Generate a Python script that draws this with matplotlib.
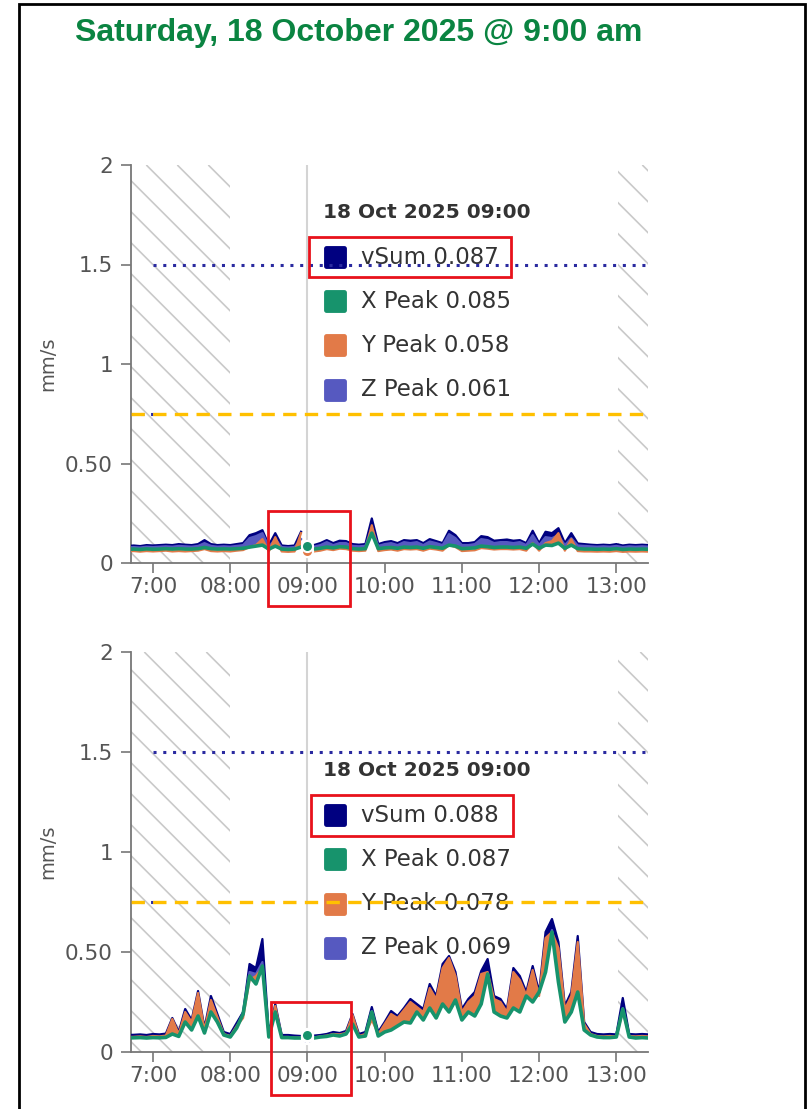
import numpy as np
import matplotlib.pyplot as plt
from matplotlib.collections import LineCollection
from matplotlib.patches import Rectangle
from matplotlib.markers import MarkerStyle

plt.rcParams['font.family'] = ['DejaVu Sans']

W, H = 808, 1109
nan = np.nan

# samples every 5 minutes, 06:40 .. 13:25
t0 = 6 + 40 / 60
times = t0 + np.arange(82) * 5 / 60

tick_hours = [7, 8, 9, 10, 11, 12, 13]
tick_labels = ['7:00', '08:00', '09:00', '10:00', '11:00', '12:00', '13:00']
y_ticks = [0, 0.5, 1, 1.5, 2]
y_tick_labels = ['0', '0.50', '1', '1.5', '2']

series_names = ['vSum', 'X Peak', 'Y Peak', 'Z Peak']
top_legend = [0.087, 0.085, 0.058, 0.061]
bot_legend = [0.088, 0.087, 0.078, 0.069]

top_vsum = [0.085, 0.088, 0.085, 0.090, 0.088, 0.090, 0.092, 0.090, 0.095, 0.092,
            0.090, 0.095, 0.115, 0.095, 0.090, 0.092, 0.090, 0.095, 0.100, 0.140,
            0.150, 0.165, 0.090, 0.150, 0.088, 0.085, 0.088, 0.157, nan, 0.090,
            0.100, 0.115, 0.100, 0.112, 0.110, 0.095, 0.092, 0.095, 0.224, 0.095,
            0.105, 0.110, 0.100, 0.115, 0.112, 0.115, 0.100, 0.120, 0.110, 0.100,
            0.162, 0.140, 0.100, 0.100, 0.105, 0.135, 0.130, 0.112, 0.115, 0.118,
            0.112, 0.115, 0.100, 0.162, 0.100, 0.157, 0.150, 0.175, 0.100, 0.150,
            0.098, 0.095, 0.092, 0.090, 0.092, 0.090, 0.095, 0.088, 0.092, 0.090,
            0.092, 0.090]
top_z = [0.078, 0.080, 0.078, 0.082, 0.080, 0.082, 0.084, 0.082, 0.086, 0.084,
         0.082, 0.086, 0.100, 0.086, 0.082, 0.084, 0.082, 0.086, 0.090, 0.125,
         0.135, 0.150, 0.082, 0.120, 0.080, 0.078, 0.080, 0.120, nan, 0.082,
         0.090, 0.105, 0.090, 0.100, 0.100, 0.086, 0.084, 0.086, 0.180, 0.086,
         0.095, 0.100, 0.090, 0.105, 0.100, 0.105, 0.090, 0.108, 0.100, 0.090,
         0.145, 0.125, 0.090, 0.090, 0.095, 0.120, 0.115, 0.100, 0.105, 0.105,
         0.100, 0.105, 0.090, 0.140, 0.090, 0.130, 0.125, 0.140, 0.090, 0.125,
         0.088, 0.086, 0.084, 0.082, 0.084, 0.082, 0.086, 0.080, 0.084, 0.082,
         0.084, 0.082]
top_y = [0.058, 0.060, 0.057, 0.060, 0.058, 0.060, 0.062, 0.058, 0.060, 0.058,
         0.060, 0.062, 0.070, 0.060, 0.058, 0.060, 0.058, 0.062, 0.065, 0.080,
         0.090, 0.120, 0.058, 0.130, 0.058, 0.056, 0.058, 0.150, nan, 0.058,
         0.062, 0.070, 0.065, 0.072, 0.070, 0.062, 0.060, 0.062, 0.190, 0.060,
         0.065, 0.068, 0.062, 0.070, 0.068, 0.070, 0.062, 0.072, 0.068, 0.062,
         0.090, 0.080, 0.060, 0.062, 0.064, 0.075, 0.072, 0.068, 0.070, 0.070,
         0.068, 0.070, 0.062, 0.100, 0.062, 0.100, 0.110, 0.150, 0.062, 0.120,
         0.060, 0.058, 0.058, 0.057, 0.058, 0.057, 0.060, 0.056, 0.058, 0.057,
         0.058, 0.057]
top_x = [0.068, 0.070, 0.068, 0.071, 0.069, 0.070, 0.072, 0.070, 0.072, 0.070,
         0.070, 0.072, 0.078, 0.072, 0.070, 0.071, 0.070, 0.072, 0.074, 0.080,
         0.085, 0.090, 0.070, 0.085, 0.070, 0.068, 0.070, 0.080, nan, 0.070,
         0.074, 0.080, 0.076, 0.082, 0.080, 0.072, 0.070, 0.072, 0.150, 0.072,
         0.076, 0.078, 0.074, 0.080, 0.078, 0.080, 0.074, 0.082, 0.078, 0.074,
         0.090, 0.085, 0.072, 0.074, 0.076, 0.085, 0.082, 0.078, 0.080, 0.080,
         0.078, 0.080, 0.074, 0.095, 0.074, 0.090, 0.088, 0.100, 0.074, 0.090,
         0.072, 0.070, 0.070, 0.069, 0.070, 0.069, 0.072, 0.068, 0.070, 0.069,
         0.070, 0.069]

bot_vsum = [0.085, 0.086, 0.088, 0.085, 0.090, 0.088, 0.092, 0.170, 0.100, 0.215,
            0.160, 0.305, 0.120, 0.280, 0.190, 0.100, 0.090, 0.145, 0.200, 0.440,
            0.420, 0.565, 0.090, 0.240, 0.085, 0.085, 0.082, 0.080, nan, 0.082,
            0.085, 0.090, 0.100, 0.095, 0.105, 0.190, 0.090, 0.100, 0.225, 0.100,
            0.150, 0.205, 0.180, 0.220, 0.265, 0.240, 0.215, 0.340, 0.280, 0.440,
            0.480, 0.400, 0.215, 0.265, 0.300, 0.405, 0.465, 0.280, 0.265, 0.215,
            0.420, 0.380, 0.300, 0.430, 0.300, 0.600, 0.665, 0.550, 0.230, 0.300,
            0.580, 0.150, 0.100, 0.090, 0.088, 0.090, 0.088, 0.270, 0.090, 0.088,
            0.090, 0.088]
bot_y = [0.075, 0.076, 0.078, 0.075, 0.080, 0.078, 0.082, 0.165, 0.090, 0.200,
         0.150, 0.295, 0.110, 0.260, 0.175, 0.090, 0.080, 0.130, 0.170, 0.360,
         0.380, 0.420, 0.080, 0.230, 0.075, 0.075, 0.072, 0.072, nan, 0.072,
         0.078, 0.082, 0.090, 0.088, 0.095, 0.185, 0.080, 0.090, 0.160, 0.090,
         0.140, 0.190, 0.170, 0.210, 0.250, 0.225, 0.200, 0.320, 0.265, 0.420,
         0.470, 0.380, 0.200, 0.250, 0.280, 0.390, 0.400, 0.265, 0.250, 0.200,
         0.400, 0.360, 0.285, 0.410, 0.280, 0.570, 0.600, 0.520, 0.215, 0.280,
         0.550, 0.140, 0.090, 0.080, 0.078, 0.080, 0.078, 0.200, 0.080, 0.078,
         0.080, 0.078]
bot_x = [0.070, 0.071, 0.072, 0.070, 0.072, 0.071, 0.073, 0.090, 0.078, 0.150,
         0.110, 0.180, 0.095, 0.200, 0.150, 0.085, 0.075, 0.120, 0.190, 0.380,
         0.340, 0.430, 0.075, 0.200, 0.072, 0.072, 0.070, 0.070, nan, 0.070,
         0.075, 0.078, 0.085, 0.080, 0.090, 0.140, 0.075, 0.080, 0.200, 0.080,
         0.100, 0.110, 0.130, 0.150, 0.145, 0.200, 0.160, 0.220, 0.170, 0.240,
         0.200, 0.260, 0.160, 0.200, 0.180, 0.240, 0.390, 0.200, 0.180, 0.170,
         0.220, 0.200, 0.280, 0.250, 0.300, 0.400, 0.600, 0.350, 0.150, 0.200,
         0.300, 0.110, 0.085, 0.075, 0.072, 0.072, 0.075, 0.215, 0.075, 0.070,
         0.072, 0.070]
bot_z = [0.072, 0.073, 0.074, 0.072, 0.075, 0.073, 0.076, 0.110, 0.082, 0.165,
         0.125, 0.215, 0.100, 0.220, 0.160, 0.087, 0.077, 0.125, 0.195, 0.400,
         0.390, 0.450, 0.077, 0.210, 0.073, 0.073, 0.071, 0.071, nan, 0.071,
         0.076, 0.080, 0.087, 0.083, 0.092, 0.150, 0.077, 0.083, 0.205, 0.083,
         0.112, 0.135, 0.142, 0.168, 0.175, 0.208, 0.172, 0.250, 0.200, 0.295,
         0.280, 0.295, 0.172, 0.215, 0.210, 0.285, 0.395, 0.220, 0.200, 0.180,
         0.275, 0.250, 0.283, 0.300, 0.305, 0.450, 0.610, 0.400, 0.170, 0.225,
         0.380, 0.120, 0.087, 0.077, 0.074, 0.075, 0.076, 0.220, 0.077, 0.073,
         0.074, 0.072]

C_VSUM = '#000080'
C_X = '#17936c'
C_Y = '#e27a48'
C_Z = '#5659c0'
colors = [C_VSUM, C_X, C_Y, C_Z]
RED = '#e8121b'
GREY_TXT = '#555555'

XMIN, XMAX = 6.715, 13.41
HOVER = 9.0


def hatch(ax, x0, x1, pos):
    span = ax.axvspan(x0, x1, facecolor='none', edgecolor='none', zorder=0)
    w_px = pos[2] * W
    h_px = pos[3] * H
    step = 31 / w_px
    drop = h_px / w_px
    segs = [[(c, 1), (c + drop, 0)] for c in np.arange(-drop - 0.1, 1.1, step)]
    lc = LineCollection(segs, colors='#c9c9c9', linewidths=1.2,
                        transform=ax.transAxes, zorder=0.5)
    ax.add_collection(lc, autolim=False)
    lc.set_clip_path(span)


def draw_panel(pos, vsum, xp, yp, zp, legend_vals, leg_top, leg_step, box_vsum, box_tick):
    ax = fig.add_axes(pos)
    vsum, xp, yp, zp = map(np.array, (vsum, xp, yp, zp))

    hatch(ax, XMIN, 8.0, pos)
    hatch(ax, 13.02, XMAX, pos)

    ax.axvline(HOVER, color='#d4d4d4', lw=1.5, zorder=1)

    # tooltip-like legend
    ax.text(9.2, leg_top, '18 Oct 2025 09:00', fontsize=14.5, weight='bold',
            color='#333333', va='center', ha='left', zorder=2)
    sq = MarkerStyle('s', joinstyle='round')
    for i, (name, val, c) in enumerate(zip(series_names, legend_vals, colors)):
        yy = leg_top - leg_step * (i + 1)
        ax.plot(9.36, yy, marker=sq, ms=13.5, mfc=c, mec=c, mew=3.5,
                zorder=2, clip_on=False)
        ax.text(9.69, yy, f'{name} {val:.3f}', fontsize=16.5, color='#333333',
                va='center', ha='left', zorder=2)

    ax.plot([7.0, XMAX], [1.5, 1.5], color='#2a2aa0', lw=2.2,
            linestyle=(0, (1, 2.2)), zorder=3)
    ax.plot([XMIN, 7.0], [0.75, 0.75], color='#2a2aa0', lw=2.2,
            linestyle=(0, (1, 2.2)), zorder=3)
    ax.axhline(0.75, color='#ffc000', lw=2.4, linestyle=(0, (4, 2.5)), zorder=3)

    for s, c in [(vsum, C_VSUM), (zp, C_Z), (yp, C_Y)]:
        ax.fill_between(times, np.minimum(xp, s), s, color=c, lw=0, zorder=4)
        ax.plot(times, s, color=c, lw=1.6, zorder=4)
    ax.plot(times, xp, color=C_X, lw=2.6, zorder=5)

    for val, c in [(legend_vals[0], C_VSUM), (legend_vals[3], C_Z),
                   (legend_vals[2], C_Y), (legend_vals[1], C_X)]:
        ax.plot(HOVER, val, 'o', ms=8, mfc=c, mec='white', mew=1.5, zorder=6)

    for (x0, x1, y0, y1) in (box_vsum, box_tick):
        ax.add_patch(Rectangle((x0, y0), x1 - x0, y1 - y0, fill=False,
                               ec=RED, lw=2, clip_on=False, zorder=10))

    ax.set_xlim(XMIN, XMAX)
    ax.set_ylim(0, 2)
    ax.set_xticks(tick_hours)
    ax.set_xticklabels(tick_labels)
    ax.set_yticks(y_ticks)
    ax.set_yticklabels(y_tick_labels)
    ax.tick_params(labelsize=15.5, labelcolor=GREY_TXT, color='#777777',
                   length=7, width=1.2)
    ax.tick_params(axis='x', pad=3)
    ax.tick_params(axis='y', pad=6)
    for side in ('top', 'right'):
        ax.spines[side].set_visible(False)
    for side in ('left', 'bottom'):
        ax.spines[side].set_color('#777777')
        ax.spines[side].set_linewidth(1.3)
    ax.set_ylabel('mm/s', fontsize=14, color=GREY_TXT)
    ax.yaxis.set_label_coords(-0.143, 0.5)
    return ax


fig = plt.figure(figsize=(W / 100, H / 100), dpi=100)

fig.patches.append(Rectangle((19 / W, -0.01), (805 - 19) / W, 1.01 - 4 / H,
                             fill=False, ec='black', lw=2,
                             transform=fig.transFigure, figure=fig))

fig.text(359 / W, 1 - 33 / H, 'Saturday, 18 October 2025 @ 9:00 am',
         fontsize=23, weight='bold', color='#0a8441', family='Liberation Sans',
         ha='center', va='center')

top_pos = [131 / W, (H - 563) / H, 517 / W, 398 / H]
bot_pos = [131 / W, (H - 1052) / H, 517 / W, 400 / H]

draw_panel(top_pos, top_vsum, top_x, top_y, top_z, top_legend,
           leg_top=1.759, leg_step=0.222,
           box_vsum=(9.02, 11.64, 1.437, 1.638), box_tick=(8.49, 9.55, -0.216, 0.26))
draw_panel(bot_pos, bot_vsum, bot_x, bot_y, bot_z, bot_legend,
           leg_top=1.405, leg_step=0.221,
           box_vsum=(9.05, 11.66, 1.08, 1.285), box_tick=(8.53, 9.56, -0.215, 0.25))

fig.savefig('out.png', dpi=100)
